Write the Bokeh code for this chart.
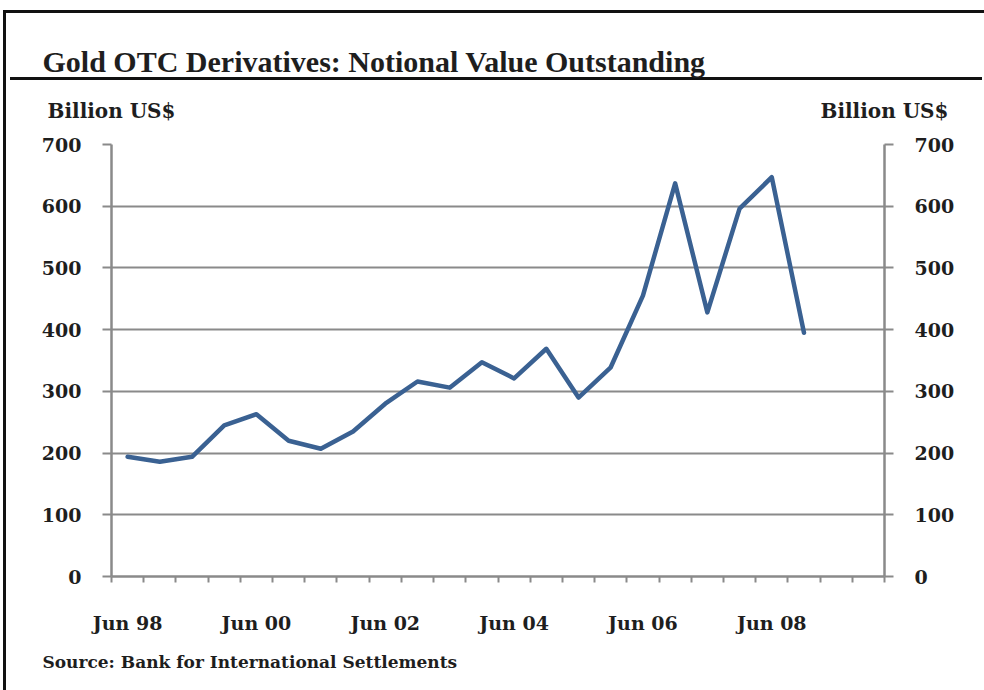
from bokeh.plotting import figure
from bokeh.models import Range1d, LinearAxis, FixedTicker, Title
from bokeh.embed import file_html
from bokeh.resources import INLINE

# ---- data ----
periods = ["Jun 98", "Dec 98", "Jun 99", "Dec 99", "Jun 00", "Dec 00", "Jun 01", "Dec 01",
           "Jun 02", "Dec 02", "Jun 03", "Dec 03", "Jun 04", "Dec 04", "Jun 05", "Dec 05",
           "Jun 06", "Dec 06", "Jun 07", "Dec 07", "Jun 08", "Dec 08", "Jun 09", "Dec 09"]
notional = [194, 186, 194, 245, 263, 220, 207, 235, 280, 316, 306, 347, 321, 369, 290, 339,
            455, 637, 428, 596, 647, 395]
labelled_periods = ["Jun 98", "Jun 00", "Jun 02", "Jun 04", "Jun 06", "Jun 08"]
y_ticks = [0, 100, 200, 300, 400, 500, 600, 700]

title_text = "Gold OTC Derivatives: Notional Value Outstanding"
unit_text = "Billion US$"
source_text = "Source: Bank for International Settlements"

TFONT = "Liberation Serif"
FONT = "DejaVu Serif"
GRAY = "#8a8a8a"
TXT = "#1e1e1e"
LINE = "#3a6192"

W, H = 984, 690
FL, FR, FT, FB = 111, 884, 144, 576   # frame edges in canvas pixels
x0, x1 = -0.5, len(periods) - 0.5
p = figure(width=W, height=H, output_backend="svg", toolbar_location=None, title=None,
           x_range=Range1d(x0, x1), y_range=Range1d(0, 700),
           min_border_left=FL, min_border_right=W - FR, min_border_top=FT,
           min_border_bottom=H - FB)
p.outline_line_color = None
p.background_fill_color = "white"
p.border_fill_color = None
# page frame lines and title rule (CSS background behind the transparent border area)
p.styles = {
    "background": ("linear-gradient(#111,#111) 3px 10px / 981px 3px no-repeat, "
                   "linear-gradient(#111,#111) 3px 10px / 3px 680px no-repeat, "
                   "linear-gradient(#111,#111) 10px 77px / 972px 3px no-repeat, #fff"),
}

xs = list(range(len(notional)))
p.line(xs, notional, line_color=LINE, line_width=4.5, line_join="round", line_cap="round")

p.xgrid.visible = False
p.ygrid.ticker = FixedTicker(ticks=y_ticks)
p.ygrid.grid_line_color = GRAY
p.ygrid.grid_line_width = 2

def style_y(ax):
    ax.ticker = FixedTicker(ticks=y_ticks)
    ax.axis_line_color = GRAY
    ax.axis_line_width = 2.5
    ax.major_tick_line_color = GRAY
    ax.major_tick_line_width = 2
    ax.major_tick_in = 0
    ax.major_tick_out = 9
    ax.minor_tick_line_color = None
    ax.major_label_standoff = 21
    ax.major_label_text_font = FONT
    ax.major_label_text_font_style = "bold"
    ax.major_label_text_font_size = "19px"
    ax.major_label_text_color = TXT

style_y(p.yaxis[0])
ry = LinearAxis()
style_y(ry)
p.add_layout(ry, "right")

xa = p.xaxis[0]
label_idx = [periods.index(s) for s in labelled_periods]
xa.ticker = FixedTicker(ticks=label_idx, minor_ticks=[i - 0.5 for i in range(len(periods) + 1)])
xa.major_label_overrides = {i: periods[i] for i in label_idx}
xa.axis_line_color = GRAY
xa.axis_line_width = 2.5
xa.major_tick_line_color = None
xa.major_tick_in = 0
xa.major_tick_out = 0
xa.minor_tick_line_color = GRAY
xa.minor_tick_line_width = 2
xa.minor_tick_in = 0
xa.minor_tick_out = 6
xa.major_label_standoff = 29
xa.major_label_text_font = FONT
xa.major_label_text_font_style = "bold"
xa.major_label_text_font_size = "19px"
xa.major_label_text_color = TXT

# unit labels above both value axes
ux = [x0 + 1e-4, x1 - 1e-4]
ua = LinearAxis(ticker=FixedTicker(ticks=ux, minor_ticks=[]),
                major_label_overrides={ux[0]: unit_text, ux[1]: unit_text})
ua.axis_line_color = None
ua.major_tick_line_color = None
ua.minor_tick_line_color = None
ua.major_tick_in = 0
ua.major_tick_out = 0
ua.major_label_standoff = 22
ua.major_label_text_font = FONT
ua.major_label_text_font_style = "bold"
ua.major_label_text_font_size = "20px"
ua.major_label_text_color = TXT
p.add_layout(ua, "above")

p.add_layout(Title(text=title_text, align="left", offset=42 - FL, standoff=36,
                   text_font=TFONT, text_font_style="bold", text_font_size="30px",
                   text_color=TXT), "above")
p.add_layout(Title(text=source_text, align="left", offset=42 - FL, standoff=27,
                   text_font=FONT, text_font_style="bold", text_font_size="17px",
                   text_color=TXT), "below")

open("out.html", "w").write(file_html(p, INLINE))
